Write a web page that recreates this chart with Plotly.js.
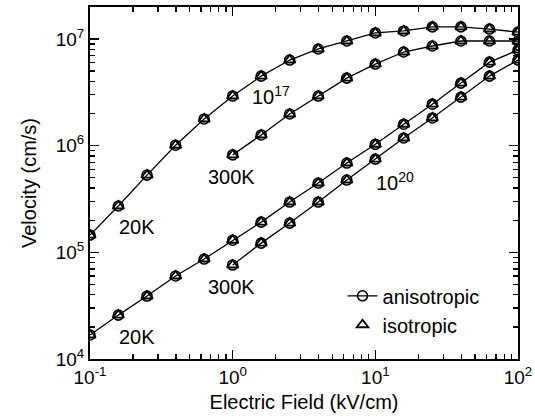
<!DOCTYPE html>
<html>
<head>
<meta charset="utf-8">
<script src="https://cdn.plot.ly/plotly-3.0.1.min.js"></script>
<style>
  html, body { margin: 0; padding: 0; background: #fff; }
  #chart { width: 535px; height: 420px; }
</style>
</head>
<body>
<div id="chart"></div>
<script>
// Electric field (kV/cm)
const field = [0.1, 0.158, 0.251, 0.398, 0.631, 1, 1.585, 2.51, 3.98, 6.31, 10, 15.8, 25.1, 39.8, 63.1, 100];
const fieldFrom1 = [1, 1.585, 2.51, 3.98, 6.31, 10, 15.8, 25.1, 39.8, 63.1, 100];

// Velocity (cm/s) - anisotropic
const aniso20K_1e17 = [1.45e5, 2.72e5, 5.3e5, 1.01e6, 1.78e6, 2.92e6, 4.49e6, 6.35e6, 8.06e6, 9.58e6, 1.14e7, 1.19e7, 1.30e7, 1.30e7, 1.24e7, 1.16e7];
const aniso300K_1e17 = [8.2e5, 1.26e6, 1.98e6, 2.92e6, 4.3e6, 5.82e6, 7.55e6, 8.6e6, 9.58e6, 9.58e6, 9.58e6];
const aniso20K_1e20 = [1.68e4, 2.58e4, 3.89e4, 6.0e4, 8.65e4, 1.30e5, 1.92e5, 2.96e5, 4.46e5, 6.87e5, 1.03e6, 1.59e6, 2.45e6, 3.86e6, 6.07e6, 7.87e6];
const aniso300K_1e20 = [7.6e4, 1.22e5, 1.88e5, 2.96e5, 4.76e5, 7.48e5, 1.18e6, 1.82e6, 2.85e6, 4.49e6, 6.34e6];

// Velocity (cm/s) - isotropic
const iso20K_1e17 = [1.45e5, 2.72e5, 5.3e5, 1.01e6, 1.78e6, 2.92e6, 4.49e6, 6.35e6, 8.06e6, 9.58e6, 1.14e7, 1.19e7, 1.30e7, 1.30e7, 1.24e7, 1.16e7];
const iso300K_1e17 = [8.2e5, 1.26e6, 1.98e6, 2.92e6, 4.3e6, 5.82e6, 7.55e6, 8.6e6, 9.58e6, 9.58e6, 9.58e6];
const iso20K_1e20 = [1.68e4, 2.58e4, 3.89e4, 6.0e4, 8.65e4, 1.30e5, 1.92e5, 2.96e5, 4.46e5, 6.87e5, 1.03e6, 1.59e6, 2.45e6, 3.86e6, 6.07e6, 7.87e6];
const iso300K_1e20 = [7.6e4, 1.22e5, 1.88e5, 2.96e5, 4.76e5, 7.48e5, 1.18e6, 1.82e6, 2.85e6, 4.49e6, 6.34e6];

// Tick labels
const xTickVals = [0.1, 1, 10, 100];
const xTickText = ['10<sup>-1</sup>', '10<sup>0</sup>', '10<sup>1</sup>', '10<sup>2</sup>'];
const yTickVals = [1e4, 1e5, 1e6, 1e7];
const yTickText = ['10<sup>4</sup>', '10<sup>5</sup>', '10<sup>6</sup>', '10<sup>7</sup>'];
const minorDigits = [2, 3, 4, 5, 6, 7, 8, 9];

// Curve labels [text, log10 x, log10 y]
const curveLabels = [
  ['10<sup>17</sup>', 0.268, 6.47],
  ['300K', -0.005, 5.706],
  ['20K', -0.671, 5.237],
  ['10<sup>20</sup>', 1.137, 5.66],
  ['300K', -0.005, 4.675],
  ['20K', -0.671, 4.206]
];

const FONT = 'Liberation Sans, Arial, Helvetica, sans-serif';

function minorTicks(decades) {
  const out = [];
  decades.forEach(d => minorDigits.forEach(m => out.push(d * m)));
  return out;
}

const anisoSets = [
  [field, aniso20K_1e17], [fieldFrom1, aniso300K_1e17],
  [field, aniso20K_1e20], [fieldFrom1, aniso300K_1e20]
];
const isoSets = [
  [field, iso20K_1e17], [fieldFrom1, iso300K_1e17],
  [field, iso20K_1e20], [fieldFrom1, iso300K_1e20]
];

const traces = [];
anisoSets.forEach((s, i) => {
  traces.push({
    x: s[0], y: s[1], type: 'scatter', mode: 'lines+markers',
    name: 'anisotropic', legendgroup: 'aniso', showlegend: i === 0,
    line: { color: 'black', width: 1.3 },
    marker: { symbol: 'circle-open', size: 10, color: 'black', line: { width: 1.6, color: 'black' } }
  });
});
isoSets.forEach((s, i) => {
  traces.push({
    x: s[0], y: s[1], type: 'scatter', mode: 'markers',
    name: 'isotropic', legendgroup: 'iso', showlegend: i === 0,
    marker: { symbol: 'triangle-up-open', size: 10, color: 'black', line: { width: 1.9, color: 'black' } }
  });
});

function axisCommon(decades) {
  return {
    type: 'log', showgrid: false,
    showline: true, linecolor: 'black', linewidth: 2, mirror: 'ticks',
    ticks: 'inside', ticklen: 9, tickwidth: 1.6, tickcolor: 'black',
    layer: 'above traces',
    tickmode: 'array',
    minor: { tickmode: 'array', tickvals: minorTicks(decades), ticks: 'inside', ticklen: 5, tickwidth: 1.3, tickcolor: 'black', showgrid: false },
    tickfont: { family: FONT, size: 19, color: 'black' }
  };
}

const layout = {
  width: 535, height: 420,
  margin: { l: 90, r: 17, t: 7, b: 61 },
  paper_bgcolor: 'white', plot_bgcolor: 'white',
  font: { family: FONT, color: 'black' },
  xaxis: Object.assign(axisCommon([0.1, 1, 10]), {
    range: [-1, 2], tickvals: xTickVals, ticktext: xTickText,
    title: { text: 'Electric Field (kV/cm)', font: { family: FONT, size: 20, color: 'black' }, standoff: 8 }
  }),
  yaxis: Object.assign(axisCommon([1e4, 1e5, 1e6, 1e7]), {
    range: [4, 7.3], tickvals: yTickVals, ticktext: yTickText,
    title: { text: 'Velocity (cm/s)', font: { family: FONT, size: 20, color: 'black' }, standoff: 14 }
  }),
  showlegend: true,
  legend: {
    x: 0.59, y: 0.235, xanchor: 'left', yanchor: 'top',
    bgcolor: 'rgba(0,0,0,0)', borderwidth: 0,
    font: { family: FONT, size: 20, color: 'black' },
    tracegroupgap: 0, itemwidth: 30
  },
  annotations: curveLabels.map(l => ({
    text: l[0], x: l[1], y: l[2], xref: 'x', yref: 'y',
    showarrow: false, font: { family: FONT, size: 20, color: 'black' }
  }))
};

Plotly.newPlot('chart', traces, layout, { staticPlot: true, displayModeBar: false });
</script>
</body>
</html>
